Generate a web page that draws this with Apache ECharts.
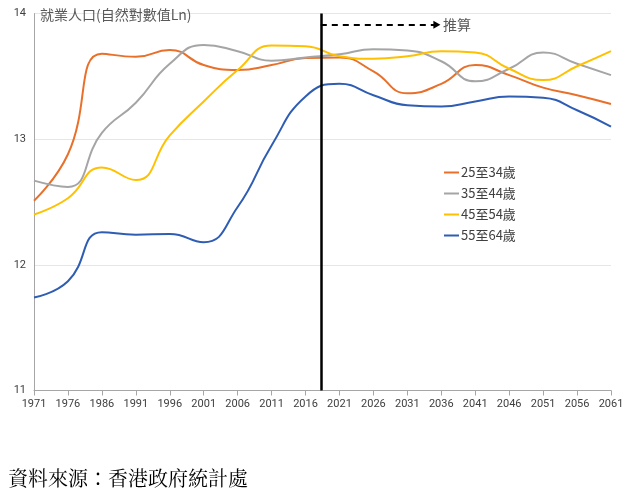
<!DOCTYPE html>
<html><head><meta charset="utf-8">
<script src="https://cdn.jsdelivr.net/npm/echarts@6/dist/echarts.min.js"></script>
<style>html,body{margin:0;padding:0;background:#fff}#c{width:640px;height:498px}</style>
</head><body><div id="c"></div>
<script>
const years = ['1971','1976','1986','1991','1996','2001','2006','2011','2016','2021','2026','2031','2036','2041','2046','2051','2056','2061'];
const age25_34 = [12.51,12.88,13.68,13.655,13.71,13.59,13.55,13.59,13.645,13.65,13.54,13.365,13.44,13.59,13.51,13.41,13.35,13.28];
const age35_44 = [12.67,12.62,13.05,13.29,13.60,13.75,13.70,13.625,13.65,13.675,13.715,13.705,13.62,13.46,13.56,13.69,13.60,13.51];
const age45_54 = [12.40,12.53,12.775,12.675,13.03,13.30,13.55,13.745,13.74,13.66,13.64,13.66,13.70,13.69,13.56,13.47,13.58,13.70];
const age55_64 = [11.74,11.87,12.26,12.24,12.245,12.18,12.46,12.95,13.34,13.44,13.35,13.27,13.26,13.30,13.34,13.33,13.23,13.10];
const seriesNames = ['25至34歲','35至44歲','45至54歲','55至64歲'];
const yTicks = {min: 11, max: 14, interval: 1};
const projectionStart = 8.45;   // position of the divider on the category index scale (~2018)
const arrowEnd = 11.87;
const arrowY = 13.91;

const colors = ['#E8702A','#A5A5A5','#FFC000','#2E5DB3'];
const dataSets = [age25_34, age35_44, age45_54, age55_64];

const series = dataSets.map((d, i) => ({
  name: seriesNames[i], type: 'line', data: d, smooth: 0.5, symbol: 'none',
  lineStyle: {width: 2, color: colors[i]}, itemStyle: {color: colors[i]}, z: 2
}));
series.push({
  type: 'line', xAxisIndex: 1, data: [], silent: true, z: 3,
  markLine: {
    silent: true, animation: false, symbol: 'none',
    lineStyle: {color: '#000', width: 2.5, type: 'solid'},
    label: {show: false},
    data: [[{coord: [projectionStart, yTicks.max]}, {coord: [projectionStart, yTicks.min]}]]
  }
});
series.push({
  type: 'line', xAxisIndex: 1, data: [], silent: true, z: 3,
  markLine: {
    silent: true, animation: false, symbol: ['none', 'triangle'], symbolSize: [8, 7],
    lineStyle: {color: '#000', width: 2, type: [6, 5]},
    label: {show: true, position: 'end', formatter: '推算', color: '#595959', fontSize: 14, distance: 6, fontFamily: 'Noto Sans CJK TC'},
    data: [[{coord: [projectionStart, arrowY]}, {coord: [arrowEnd, arrowY]}]]
  }
});

const chart = echarts.init(document.getElementById('c'), null, {renderer: 'canvas'});
chart.setOption({
  animation: false,
  backgroundColor: '#fff',
  title: {text: '就業人口(自然對數值Ln)', left: 40, top: 8, padding: 0,
    textStyle: {fontSize: 14, fontWeight: 'normal', color: '#595959', fontFamily: 'Noto Sans CJK TC'}},
  grid: {left: 34, right: 29, top: 13.5, bottom: 107.5},
  legend: {
    data: seriesNames, orient: 'vertical', left: 439, top: 161,
    icon: 'rect', itemWidth: 15, itemHeight: 2, itemGap: 8,
    textStyle: {fontSize: 13, color: '#404040', padding: [0,0,0,-3], lineHeight: 13, fontFamily: 'Noto Sans CJK TC'}
  },
  xAxis: [{
    type: 'category', data: years, boundaryGap: false,
    axisLine: {lineStyle: {color: '#A6A6A6', width: 1}},
    axisTick: {show: true, alignWithLabel: true, length: 5, lineStyle: {color: '#A6A6A6'}},
    axisLabel: {color: '#404040', fontSize: 11, margin: 8, fontFamily: 'Roboto', interval: 0},
    splitLine: {show: false}
  }, {
    type: 'value', min: 0, max: years.length - 1, show: false, position: 'bottom',
    splitLine: {show: false}
  }],
  yAxis: {
    type: 'value', min: yTicks.min, max: yTicks.max, interval: yTicks.interval,
    axisLine: {show: true, lineStyle: {color: '#A6A6A6'}},
    axisTick: {show: false},
    axisLabel: {color: '#404040', fontSize: 11, margin: 8, fontFamily: 'Roboto'},
    splitLine: {lineStyle: {color: '#E6E6E6', width: 1}}
  },
  graphic: [{type: 'text', left: 8, top: 468,
    style: {text: '資料來源：香港政府統計處', fontSize: 20, fill: '#000', fontFamily: 'Noto Serif CJK TC, Noto Sans CJK TC'}}],
  series: series
});
</script></body></html>
